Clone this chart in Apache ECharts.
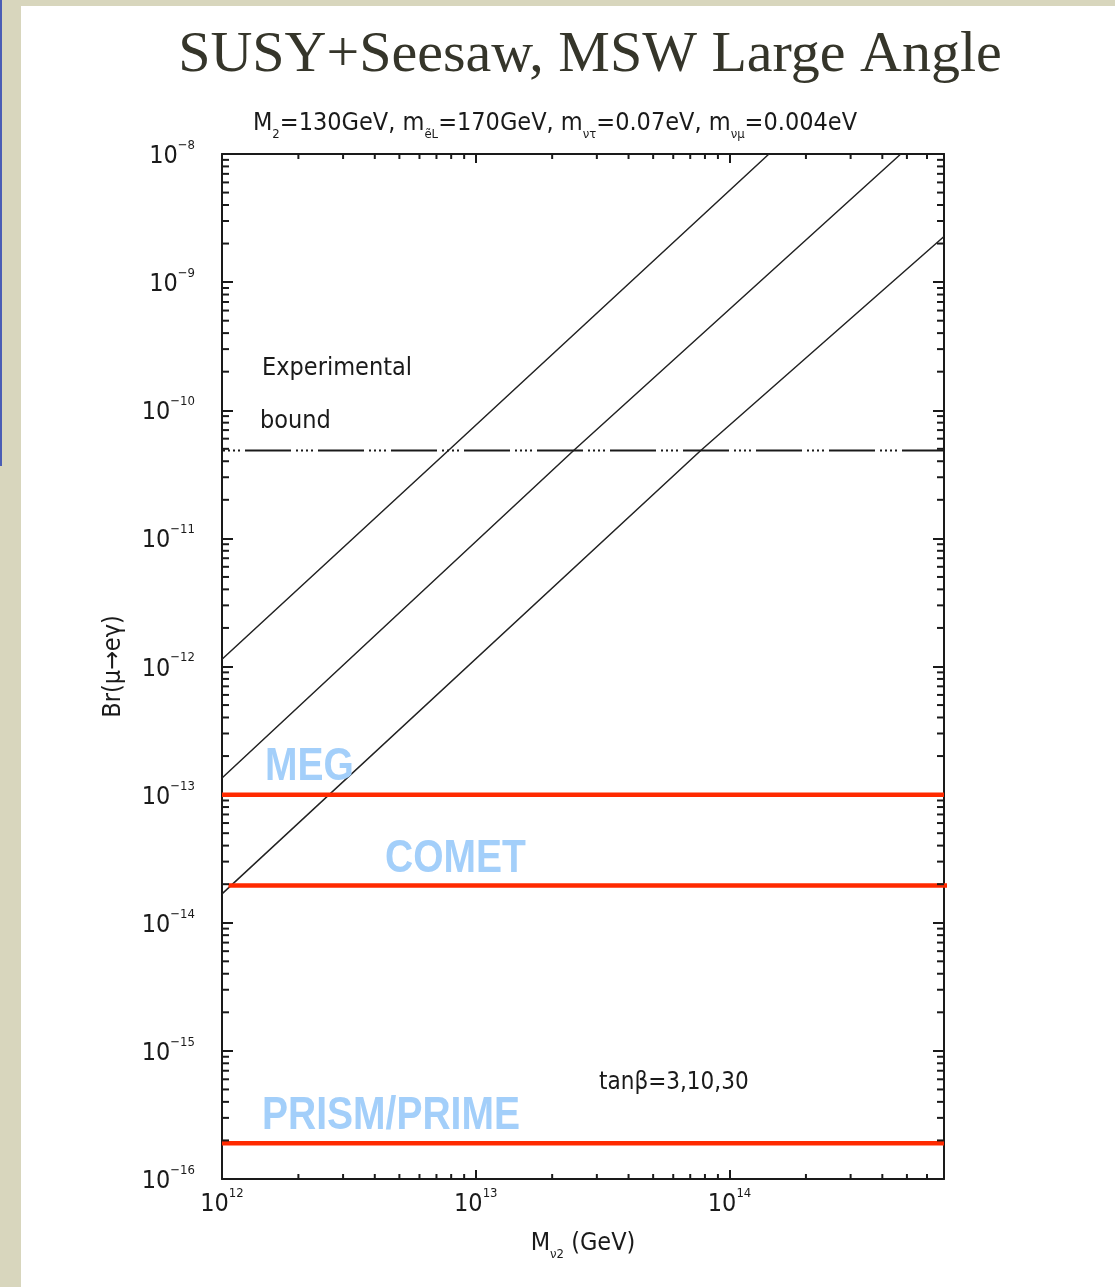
<!DOCTYPE html>
<html>
<head>
<meta charset="utf-8">
<script src="https://cdn.jsdelivr.net/npm/echarts@6/dist/echarts.min.js"></script>
<style>
html, body { margin: 0; padding: 0; background: #d8d6bd; }
#panel { position: absolute; left: 21px; top: 6px; width: 1094px; height: 1281px; background: #fff; }
#strip { position: absolute; left: 0; top: 0; width: 2px; height: 466px; background: #4a5db5; }
#mainChart { position: absolute; left: 0; top: 0; width: 1115px; height: 1287px; }
</style>
</head>
<body>
<div id="strip"></div>
<div id="panel"></div>
<div id="mainChart"></div>
<script>
// axis ranges
var xRange = [1e12, 7e14];
var yRange = [1e-16, 1e-8];

// Br(mu -> e gamma) vs M_nu2 (tanb = 30, 10, 3)
var tb30 = [[1e12, 1.14e-12], [7.8e12, 4.85e-11], [1.43e14, 1e-8]];
var tb10 = [[1e12, 1.35e-13], [2.43e13, 4.85e-11], [4.73e14, 1e-8]];
var tb3 = [[1e12, 1.68e-14], [7.7e13, 4.85e-11], [7e14, 2.27e-9]];

// experimental bound and future sensitivities
var expBound = 4.85e-11;
var futureNames = ['MEG', 'COMET', 'PRISM/PRIME'];
var futureBounds = [1e-13, 1.95e-14, 1.9e-16];
var futureSpan = [[1e12, 7e14], [1.06e12, 7.45e14], [1e12, 7e14]];

// minor ticks (log)
var minorSteps = [2, 3, 4, 5, 6, 7, 8, 9];
var xDecades = [12, 13, 14];
var yDecades = [-16, -15, -14, -13, -12, -11, -10, -9];

var NARROW = '"Liberation Sans Narrow", "DejaVu Sans Condensed", "Liberation Sans", sans-serif';
var INK = '#1a1a1a';
var BLUE = '#a3cffa';

function minorValues(decades, range) {
    var out = [];
    decades.forEach(function(d) {
        minorSteps.forEach(function(m) {
            var v = m * Math.pow(10, d);
            if (v > range[0] && v < range[1]) out.push(v);
        });
    });
    return out;
}

function powLabel(v) {
    var e = Math.log10(v);
    var r = Math.round(e);
    if (Math.abs(e - r) > 1e-6) return '';
    return '{b|10}{s|' + String(r).replace('-', '−') + '}';
}

var labelRich = {
    b: {fontFamily: NARROW, fontSize: 25, color: INK, lineHeight: 30, verticalAlign: 'bottom'},
    s: {fontFamily: NARROW, fontSize: 13, color: INK, lineHeight: 30, verticalAlign: 'top'}
};

var lineAxis = {onZero: false, lineStyle: {color: INK, width: 2}};

var myChart = echarts.init(document.getElementById('mainChart'));

var xMinor = minorValues(xDecades, xRange);
var yMinor = minorValues(yDecades, yRange);

var series = [];

// the three model curves
[tb30, tb10, tb3].forEach(function(d, i) {
    series.push({
        name: 'tanb' + i,
        type: 'line',
        data: d,
        showSymbol: false,
        lineStyle: {color: '#222', width: 1.5},
        z: 3
    });
});

// experimental bound
series.push({
    type: 'line',
    data: [[xRange[0], expBound], [xRange[1], expBound]],
    showSymbol: false,
    lineStyle: {color: INK, width: 2, type: [46, 5, 2, 3, 2, 3, 2, 3, 2, 5], dashOffset: 50},
    z: 3
});

// future experiments
futureBounds.forEach(function(b, i) {
    series.push({
        name: futureNames[i],
        type: 'line',
        clip: false,
        data: [[futureSpan[i][0], b], [futureSpan[i][1], b]],
        showSymbol: false,
        lineStyle: {color: '#ff2a00', width: 4.5},
        z: 4
    });
});

// log minor ticks on all four sides
series.push({
    type: 'custom',
    silent: true,
    data: yMinor.map(function(v) { return [xRange[0], v]; }),
    renderItem: function(params, api) {
        var v = api.value(1);
        var a = api.coord([xRange[0], v]);
        var b = api.coord([xRange[1], v]);
        return {type: 'group', children: [
            {type: 'line', shape: {x1: a[0], y1: a[1], x2: a[0] + 7, y2: a[1]}, style: {stroke: INK, lineWidth: 2}},
            {type: 'line', shape: {x1: b[0], y1: b[1], x2: b[0] - 7, y2: b[1]}, style: {stroke: INK, lineWidth: 2}}
        ]};
    },
    z: 5
});
series.push({
    type: 'custom',
    silent: true,
    data: xMinor.map(function(v) { return [v, yRange[0]]; }),
    renderItem: function(params, api) {
        var v = api.value(0);
        var a = api.coord([v, yRange[0]]);
        var b = api.coord([v, yRange[1]]);
        return {type: 'group', children: [
            {type: 'line', shape: {x1: a[0], y1: a[1], x2: a[0], y2: a[1] - 5}, style: {stroke: INK, lineWidth: 2}},
            {type: 'line', shape: {x1: b[0], y1: b[1], x2: b[0], y2: b[1] + 5}, style: {stroke: INK, lineWidth: 2}}
        ]};
    },
    z: 5
});

function txt(text, x, y, size) {
    return {type: 'text', z: 10, style: {
        text: text, x: x, y: y, fill: INK, font: size + 'px ' + NARROW, textVerticalAlign: 'middle'
    }};
}

// bold condensed labels: Liberation Sans squeezed horizontally
function expLabel(text, x, y) {
    return {type: 'text', z: 10, x: x, y: y, scaleX: 0.83, style: {
        text: text, x: 0, y: 0, fill: BLUE, font: 'bold 47px "Liberation Sans", sans-serif',
        textVerticalAlign: 'middle'
    }};
}

myChart.setOption({
    backgroundColor: 'transparent',
    animation: false,
    grid: {left: 222, top: 154, width: 722, height: 1025},
    xAxis: [{
        type: 'log', logBase: 10, min: xRange[0], max: xRange[1], splitNumber: 3,
        position: 'bottom',
        axisLine: lineAxis,
        axisTick: {inside: true, length: 9, lineStyle: {color: INK, width: 2}},
        splitLine: {show: false},
        axisLabel: {margin: 8, formatter: powLabel, rich: labelRich},
        name: '{t|M}{s|ν2}{t| (GeV)}',
        nameLocation: 'middle',
        nameGap: 52,
        nameTextStyle: {
            rich: {
                t: {fontFamily: NARROW, fontSize: 25, color: INK, lineHeight: 30, verticalAlign: 'top'},
                s: {fontFamily: NARROW, fontSize: 13, color: INK, lineHeight: 30, verticalAlign: 'bottom'}
            }
        }
    }, {
        type: 'log', logBase: 10, min: xRange[0], max: xRange[1], splitNumber: 3,
        position: 'top',
        axisLine: lineAxis,
        axisTick: {inside: true, length: 9, lineStyle: {color: INK, width: 2}},
        splitLine: {show: false},
        axisLabel: {show: false}
    }],
    yAxis: [{
        type: 'log', logBase: 10, min: yRange[0], max: yRange[1], splitNumber: 8,
        position: 'left',
        axisLine: lineAxis,
        axisTick: {inside: true, length: 11, lineStyle: {color: INK, width: 2}},
        splitLine: {show: false},
        axisLabel: {margin: 27, formatter: powLabel, rich: labelRich},
        name: 'Br(μ→eγ)',
        nameLocation: 'middle',
        nameGap: 96,
        nameTextStyle: {fontFamily: NARROW, fontSize: 25, color: INK}
    }, {
        type: 'log', logBase: 10, min: yRange[0], max: yRange[1], splitNumber: 8,
        position: 'right',
        axisLine: lineAxis,
        axisTick: {inside: true, length: 11, lineStyle: {color: INK, width: 2}},
        splitLine: {show: false},
        axisLabel: {show: false}
    }],
    graphic: [
        {type: 'text', z: 10, style: {
            text: 'SUSY+Seesaw, MSW Large Angle', x: 590, y: 56,
            font: '58px "Liberation Serif", serif', fill: '#35352a',
            textAlign: 'center', textVerticalAlign: 'middle'
        }},
        {type: 'text', z: 10, style: {
            text: '{t|M}{s|2}{t|=130GeV, m}{s|ẽL}{t|=170GeV, m}{s|ντ}{t|=0.07eV, m}{s|νμ}{t|=0.004eV}',
            x: 555, y: 126, textAlign: 'center', textVerticalAlign: 'middle',
            rich: {
                t: {fontFamily: NARROW, fontSize: 25, fill: INK, lineHeight: 30, verticalAlign: 'top'},
                s: {fontFamily: NARROW, fontSize: 13, fill: INK, lineHeight: 30, verticalAlign: 'bottom'}
            }
        }},
        txt('Experimental', 262, 368, 25),
        txt('bound', 260, 421, 25),
        txt('tanβ=3,10,30', 599, 1083, 24),
        expLabel(futureNames[0], 265, 767),
        expLabel(futureNames[1], 385, 859),
        expLabel(futureNames[2], 262, 1116)
    ],
    series: series
});
</script>
</body>
</html>
